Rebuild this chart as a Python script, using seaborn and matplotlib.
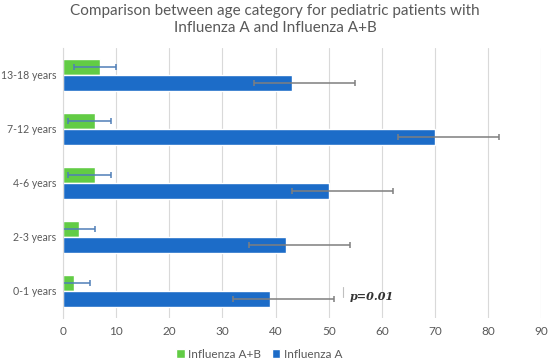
import pandas as pd
import matplotlib.pyplot as plt
import seaborn as sns

# Data
categories = ['13-18 years', '7-12 years', '4-6 years', '2-3 years', '0-1 years']
flu_ab = [7, 6, 6, 3, 2]
flu_a = [43, 70, 50, 42, 39]
ab_err_low = [5, 5, 5, 5, 5]
ab_err_high = [3, 3, 3, 3, 3]
a_err_low = [7, 7, 7, 7, 7]
a_err_high = [12, 12, 12, 12, 12]
series = ['Influenza A+B', 'Influenza A']

df = pd.DataFrame({
    'age': categories * 2,
    'value': flu_ab + flu_a,
    'group': [series[0]] * 5 + [series[1]] * 5,
})

sns.set_style('white')
plt.rcParams['font.family'] = ['Lato', 'DejaVu Sans']
txt = '#595959'

fig = plt.figure(figsize=(5.5, 3.6), dpi=100)
ax = fig.add_axes([0.1145, 0.117, 0.87, 0.75])

sns.barplot(data=df, y='age', x='value', hue='group', order=categories,
            hue_order=series, palette=['#62cc45', '#1c6cc8'], width=0.6,
            saturation=1, errorbar=None, ax=ax, legend=True)

# error bars, placed on the drawn bars
errs = [(ab_err_low, ab_err_high, '#4f7eb8'), (a_err_low, a_err_high, '#7f7f7f')]
for cont, (lo, hi, col) in zip(ax.containers, errs):
    ys = [p.get_y() + p.get_height() / 2 for p in cont.patches]
    xs = [p.get_width() for p in cont.patches]
    ax.errorbar(xs, ys, xerr=[lo, hi], fmt='none', ecolor=col,
                elinewidth=1.1, capsize=2.5, capthick=1.1)

ax.set_xlim(0, 90)
ax.set_xticks(range(0, 91, 10))
ax.set_ylim(4.5, -0.5)
ax.grid(axis='x', color='#d9d9d9', linewidth=0.8)
ax.set_axisbelow(True)
for s in ['top', 'right', 'bottom']:
    ax.spines[s].set_visible(False)
ax.spines['left'].set_color('#d9d9d9')
ax.tick_params(axis='x', length=0, labelsize=8.5, labelcolor=txt, pad=6)
ax.tick_params(axis='y', length=0, labelsize=7.6, labelcolor=txt, pad=5)
ax.set_xlabel('')
ax.set_ylabel('')

ax.text(54, 4.1, 'p=0.01', fontsize=8, fontstyle='italic', fontweight='bold',
        family='DejaVu Serif', color='#333333', va='center')
ax.plot([52.6, 52.6], [3.92, 4.12], color='#bfbfbf', linewidth=0.8)

ax.legend(loc='upper center', bbox_to_anchor=(0.41, -0.075), ncol=2,
          frameon=False, fontsize=8.5, handlelength=0.7, handleheight=0.7,
          handletextpad=0.3, columnspacing=0.9, labelcolor=txt)

fig.suptitle('Comparison between age category for pediatric patients with\n'
             'Influenza A and Influenza A+B', x=0.5, y=0.99,
             fontsize=11, color=txt, linespacing=1.3)

fig.savefig('out.png', dpi=100)
